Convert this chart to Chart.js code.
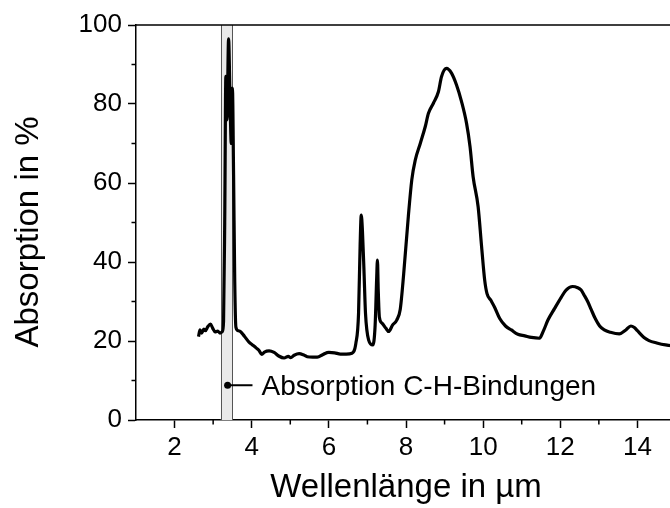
<!DOCTYPE html>
<html lang="de">
<head>
<meta charset="utf-8">
<title>Absorptionsspektrum</title>
<script src="https://cdn.jsdelivr.net/npm/chart.js@4/dist/chart.umd.min.js"></script>
<style>
  html, body { margin: 0; padding: 0; background: #fff; overflow: hidden; }
  #wrap { position: relative; width: 680px; height: 508px; }
  canvas { display: block; }
</style>
</head>
<body>
<div id="wrap"><canvas id="spectrum" width="680" height="508"></canvas></div>
<script>
// measured spectrum
const wavelength = [
  2.62, 2.66, 2.70, 2.76, 2.80, 2.86, 2.93, 2.99, 3.05, 3.12, 3.18, 3.24,
  3.27, 3.30, 3.33, 3.36, 3.40, 3.44, 3.47, 3.50, 3.53, 3.56, 3.59, 3.65,
  3.72, 3.81, 3.93, 4.02, 4.12, 4.19, 4.26, 4.33, 4.45, 4.58, 4.70, 4.84,
  4.95, 5.01, 5.10, 5.23, 5.34, 5.44, 5.58, 5.70, 5.85, 6.00, 6.15, 6.30,
  6.45, 6.60, 6.70, 6.77, 6.81, 6.84, 6.87, 6.91, 6.95, 7.03, 7.14, 7.20,
  7.24, 7.26, 7.28, 7.31, 7.38, 7.48, 7.55, 7.65, 7.76, 7.85, 7.94, 8.06,
  8.15, 8.24, 8.37, 8.50, 8.58, 8.71, 8.84, 8.92, 9.05, 9.18, 9.31, 9.44,
  9.57, 9.66, 9.74, 9.87, 9.96, 10.04, 10.10, 10.20, 10.30, 10.43, 10.58, 10.73,
  10.90, 11.08, 11.25, 11.46, 11.56, 11.68, 11.85, 12.02, 12.15, 12.32, 12.45, 12.54,
  12.62, 12.71, 12.80, 12.90, 13.02, 13.14, 13.30, 13.53, 13.70, 13.83, 13.92, 14.00,
  14.17, 14.30, 14.50, 14.73, 15.00
];
const absorption = [
  21.1, 22.8, 22.0, 23.0, 22.6, 23.6, 24.3, 23.2, 22.3, 22.5, 22.0, 22.4,
  25.0, 50.0, 87.0, 76.0, 96.5, 80.0, 70.0, 84.0, 62.0, 35.0, 23.5, 22.6,
  22.3, 21.2, 19.7, 19.0, 18.2, 17.6, 16.6, 17.2, 17.5, 17.1, 16.2, 15.7,
  16.1, 15.8, 16.4, 16.8, 16.5, 16.0, 15.9, 15.9, 16.6, 17.1, 17.0, 16.7,
  16.7, 16.9, 19.4, 27.0, 44.0, 51.9, 48.0, 38.0, 27.0, 20.3, 19.0, 24.0,
  36.0, 40.5, 33.0, 26.0, 24.5, 23.2, 22.4, 24.0, 25.3, 28.0, 37.0, 51.5,
  60.8, 65.8, 70.0, 74.3, 77.6, 80.2, 83.1, 86.9, 89.0, 87.8, 84.8, 80.6,
  75.1, 69.2, 61.6, 54.0, 43.9, 35.4, 32.0, 30.3, 28.5, 25.7, 23.8, 22.8,
  21.7, 21.3, 20.9, 20.7, 22.5, 25.3, 28.2, 31.0, 32.9, 33.8, 33.5, 32.9,
  31.6, 30.0, 28.0, 25.8, 23.8, 22.8, 22.2, 21.8, 22.8, 23.8, 23.4, 22.6,
  20.9, 20.1, 19.5, 19.0, 18.7
];

// C-H band and its label
const bandRange = [3.2, 3.5];
const markerX = [3.375, 4.02];
const markerY = [8.8, 8.8];
const markerLabel = 'Absorption C-H-Bindungen';

const xTicks = [2, 4, 6, 8, 10, 12, 14];
const xMinorTicks = [3, 5, 7, 9, 11, 13, 15];
const yTicks = [0, 20, 40, 60, 80, 100];
const yMinorTicks = [10, 30, 50, 70, 90];
const yTitle = 'Absorption in %';

const FONT = '"Liberation Sans", Arial, Helvetica, sans-serif';

const spectrum = wavelength.map((x, i) => ({ x, y: absorption[i] }));
const marker = markerX.map((x, i) => ({ x, y: markerY[i] }));

const decorations = {
  id: 'decorations',
  beforeDatasetsDraw(chart) {
    const { ctx, chartArea: a, scales: { x } } = chart;
    const x0 = x.getPixelForValue(bandRange[0]);
    const x1 = x.getPixelForValue(bandRange[1]);
    ctx.save();
    ctx.fillStyle = '#e9e9e9';
    ctx.fillRect(x0, a.top, x1 - x0, a.bottom - a.top);
    ctx.strokeStyle = '#555';
    ctx.lineWidth = 1;
    ctx.beginPath();
    ctx.moveTo(Math.round(x0) + 0.5, a.top);
    ctx.lineTo(Math.round(x0) + 0.5, a.bottom);
    ctx.moveTo(Math.round(x1) + 0.5, a.top);
    ctx.lineTo(Math.round(x1) + 0.5, a.bottom);
    ctx.stroke();
    ctx.restore();
  },
  afterDraw(chart) {
    const { ctx, chartArea: a, scales: { x, y } } = chart;
    ctx.save();
    ctx.strokeStyle = '#000';
    ctx.lineWidth = 1.5;
    ctx.beginPath();
    // top frame line
    ctx.moveTo(a.left, a.top);
    ctx.lineTo(a.right + 2, a.top);
    // minor ticks
    xMinorTicks.forEach(v => {
      const px = x.getPixelForValue(v);
      ctx.moveTo(px, a.bottom);
      ctx.lineTo(px, a.bottom + 4.5);
    });
    yMinorTicks.forEach(v => {
      const py = y.getPixelForValue(v);
      ctx.moveTo(a.left, py);
      ctx.lineTo(a.left - 4.5, py);
    });
    ctx.stroke();

    ctx.fillStyle = '#000';
    ctx.textBaseline = 'middle';

    // annotation text
    ctx.font = '28px ' + FONT;
    ctx.textAlign = 'left';
    ctx.fillText(markerLabel, x.getPixelForValue(markerX[1]) + 9, y.getPixelForValue(markerY[1]) + 2);

    // y axis title, sits a little below the axis middle
    ctx.font = '33px ' + FONT;
    ctx.textAlign = 'center';
    ctx.translate(29, y.getPixelForValue(47.6));
    ctx.rotate(-Math.PI / 2);
    ctx.fillText(yTitle, 0, 0);
    ctx.restore();
  }
};

new Chart(document.getElementById('spectrum'), {
  type: 'line',
  data: {
    datasets: [
      {
        data: spectrum,
        borderColor: '#000',
        borderWidth: 3.2,
        pointRadius: 0,
        cubicInterpolationMode: 'monotone',
        fill: false
      },
      {
        data: marker,
        borderColor: '#000',
        backgroundColor: '#000',
        borderWidth: 2,
        pointRadius: [3.5, 0],
        pointBorderWidth: 0,
        fill: false
      }
    ]
  },
  options: {
    responsive: false,
    animation: false,
    devicePixelRatio: 1,
    layout: { padding: { top: 25, right: 1, left: 0, bottom: 0 } },
    plugins: { legend: { display: false }, tooltip: { enabled: false } },
    scales: {
      x: {
        type: 'linear',
        min: 1,
        max: 15,
        afterFit(s) { s.height = 88; },
        afterBuildTicks(s) { s.ticks = xTicks.map(value => ({ value })); },
        border: { display: true, color: '#000', width: 1.5 },
        grid: { drawOnChartArea: false, drawTicks: true, tickLength: 8, tickColor: '#000', tickWidth: 1.5 },
        ticks: { color: '#000', font: { family: FONT, size: 26 }, padding: 4, maxRotation: 0 },
        title: {
          display: true,
          text: 'Wellenlänge in µm',
          color: '#000',
          font: { family: FONT, size: 33 },
          padding: { top: 0, bottom: 0 }
        }
      },
      y: {
        type: 'linear',
        min: 0,
        max: 100,
        afterFit(s) { s.width = 136; },
        afterBuildTicks(s) { s.ticks = yTicks.map(value => ({ value })); },
        border: { display: true, color: '#000', width: 1.5 },
        grid: { drawOnChartArea: false, drawTicks: true, tickLength: 8, tickColor: '#000', tickWidth: 1.5 },
        ticks: { color: '#000', font: { family: FONT, size: 26 }, padding: 6 },
        title: { display: false }
      }
    }
  },
  plugins: [decorations]
});
</script>
</body>
</html>
